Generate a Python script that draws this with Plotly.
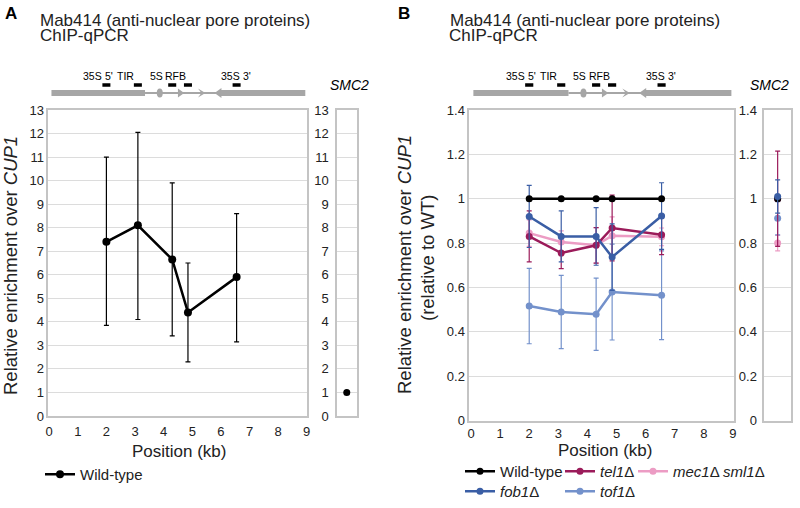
import plotly.graph_objects as go

# ---------------- data ----------------
positions = [2.0, 3.1, 4.3, 4.85, 6.55]          # kb
x_tick_vals = [0, 1, 2, 3, 4, 5, 6, 7, 8, 9]

# Panel A (absolute enrichment)
a_wt = [7.4, 8.1, 6.65, 4.4, 5.9]
a_wt_err_plus = [3.6, 3.95, 3.25, 2.1, 2.7]
a_wt_err_minus = [3.55, 4.0, 3.25, 2.1, 2.75]
a_smc2_wt = [1.0]
a_smc2_wt_err = [0.08]

# Panel B (relative to WT)
b_wt = [1.0, 1.0, 1.0, 1.0, 1.0]
b_tel1 = [0.83, 0.755, 0.79, 0.868, 0.838]
b_tel1_err = [0.115, 0.07, 0.08, 0.148, 0.09]
b_mec1 = [0.845, 0.805, 0.79, 0.833, 0.828]
b_mec1_err = [0.06, 0.05, 0.08, 0.085, 0.04]
b_fob1 = [0.92, 0.83, 0.83, 0.737, 0.922]
b_fob1_err = [0.14, 0.115, 0.13, 0.15, 0.15]
b_tof1 = [0.516, 0.489, 0.479, 0.579, 0.565]
b_tof1_err = [0.17, 0.165, 0.163, 0.216, 0.2]

b_smc2_wt = [1.0]
b_smc2_tel1 = [1.0]; b_smc2_tel1_err = [0.215]
b_smc2_mec1 = [0.80]; b_smc2_mec1_err = [0.035]
b_smc2_fob1 = [1.01]; b_smc2_fob1_err = [0.075]
b_smc2_tof1 = [0.912]; b_smc2_tof1_err = [0.075]

# schematic probe labels (token, centre in kb)
probe_tokens = ["35S", "5'", "TIR", "5S", "RFB", "35S", "3'"]
probe_token_center = [1.52, 2.1, 2.66, 3.74, 4.42, 6.35, 6.9]

# ---------------- style ----------------
W, H = 800, 508
FONT = "Liberation Sans, Arial, sans-serif"
C_WT = "#000000"
C_TEL1 = "#9b1b5a"
C_MEC1 = "#ec9cc4"
C_FOB1 = "#3a5ea5"
C_TOF1 = "#7391cb"
GRID = "#dcdcdc"
FRAME = "#c4c4c4"
GENE = "#a6a6a6"
TXT = "#222222"


def px(xp):
    return xp / W


def py(yp):
    return 1 - yp / H


fig = go.Figure()


def add_series(xs, ys, err, color, name, xa, ya, legend, showlegend=True,
               err_minus=None, lw=2.5, ms=7):
    ed = dict(type="data", array=err, color=color, thickness=1.2, width=2.5,
              visible=err is not None)
    if err_minus is not None:
        ed["arrayminus"] = err_minus
        ed["symmetric"] = False
    fig.add_trace(go.Scatter(
        x=xs, y=ys, mode="lines+markers", name=name,
        line=dict(color=color, width=lw), marker=dict(color=color, size=ms),
        error_y=ed, xaxis=xa, yaxis=ya, legend=legend, showlegend=showlegend))


# Panel A
add_series(positions, a_wt, a_wt_err_plus, C_WT, "Wild-type", "x", "y", "legend",
           err_minus=a_wt_err_minus, lw=2.5, ms=8)
add_series([0.5], a_smc2_wt, a_smc2_wt_err, C_WT, "Wild-type", "x2", "y2", "legend",
           showlegend=False, ms=7)

# Panel B main (one legend per entry so each entry sits on the original grid)
add_series(positions, b_tof1, b_tof1_err, C_TOF1, "<i>tof1</i>Δ", "x3", "y3", "legend6")
add_series(positions, b_mec1, b_mec1_err, C_MEC1, "<i>mec1</i>Δ <i>sml1</i>Δ", "x3", "y3", "legend4")
add_series(positions, b_tel1, b_tel1_err, C_TEL1, "<i>tel1</i>Δ", "x3", "y3", "legend3")
add_series(positions, b_fob1, b_fob1_err, C_FOB1, "<i>fob1</i>Δ", "x3", "y3", "legend5")
add_series(positions, b_wt, None, C_WT, "Wild-type", "x3", "y3", "legend2")

# Panel B SMC2
add_series([0.5], b_smc2_mec1, b_smc2_mec1_err, C_MEC1, "m", "x4", "y4", "legend2", showlegend=False)
add_series([0.5], b_smc2_tof1, b_smc2_tof1_err, C_TOF1, "t", "x4", "y4", "legend2", showlegend=False)
add_series([0.5], b_smc2_tel1, b_smc2_tel1_err, C_TEL1, "t1", "x4", "y4", "legend2", showlegend=False)
add_series([0.5], b_smc2_wt, None, C_WT, "w", "x4", "y4", "legend2", showlegend=False)
add_series([0.5], b_smc2_fob1, b_smc2_fob1_err, C_FOB1, "f", "x4", "y4", "legend2", showlegend=False)

tickfont = dict(family=FONT, size=13, color=TXT)

common_y = dict(showgrid=True, gridcolor=GRID, gridwidth=1, showline=True, mirror=True,
                linecolor=FRAME, linewidth=1.5, ticks="", tickfont=tickfont, zeroline=False,
                fixedrange=True, automargin=False)
common_x = dict(showgrid=False, showline=True, mirror=True, linecolor=FRAME, linewidth=1.5,
                ticks="", tickfont=tickfont, zeroline=False, fixedrange=True, automargin=False)

A_TOP, A_BOT = 110, 416
B_TOP, B_BOT = 110, 420.5


def legend_at(x_text, y_top, yanchor="top"):
    return dict(x=px(x_text - 40), y=(py(y_top) if yanchor == "top" else 0),
                xanchor="left", yanchor=yanchor, orientation="h",
                font=dict(family=FONT, size=15, color=TXT), bgcolor="rgba(0,0,0,0)",
                borderwidth=0)


fig.update_layout(
    width=W, height=H, autosize=False,
    margin=dict(l=0, r=0, t=0, b=0, pad=0),
    paper_bgcolor="white", plot_bgcolor="white",
    font=dict(family=FONT, color=TXT),
    xaxis=dict(domain=[px(48.3), px(307.3)], range=[-0.03, 9.02], anchor="y",
               tickvals=x_tick_vals, ticklabelstandoff=3, **common_x),
    yaxis=dict(domain=[py(A_BOT), py(A_TOP)], range=[0, 13], dtick=1, anchor="x", **common_y),
    xaxis2=dict(domain=[px(337), px(356.5)], range=[0, 1], anchor="y2", showticklabels=False,
                **common_x),
    yaxis2=dict(domain=[py(A_BOT), py(A_TOP)], range=[0, 13], dtick=1, anchor="x2",
                ticklabelstandoff=4, **common_y),
    xaxis3=dict(domain=[px(469.3), px(734.3)], range=[-0.06, 9.05], anchor="y3",
                tickvals=x_tick_vals, ticklabelstandoff=0, **common_x),
    yaxis3=dict(domain=[py(B_BOT), py(B_TOP)], range=[0, 1.4], dtick=0.2, anchor="x3", **common_y),
    xaxis4=dict(domain=[px(764.3), px(791)], range=[0, 1], anchor="y4", showticklabels=False,
                **common_x),
    yaxis4=dict(domain=[py(B_BOT), py(B_TOP)], range=[0, 1.4], dtick=0.2, anchor="x4",
                ticklabelstandoff=3, **common_y),
    legend=legend_at(80, 458),
    legend2=legend_at(500, 455),
    legend3=legend_at(600, 455),
    legend4=legend_at(673, 455),
    legend5=legend_at(500, 0, yanchor="bottom"),
    legend6=legend_at(600, 0, yanchor="bottom"),
)

shapes = []
annotations = []


# ---------- schematic of the rDNA repeat above each panel ----------
def schematic(xref, ybar=93):
    t = 3  # half thickness of the thick bars (px)
    shapes.append(dict(type="rect", xref=xref, yref="paper", x0=0.08, x1=3.35,
                       y0=py(ybar + t), y1=py(ybar - t), fillcolor=GENE, line=dict(width=0)))
    shapes.append(dict(type="line", xref=xref, yref="paper", x0=3.35, x1=5.95,
                       y0=py(ybar), y1=py(ybar), line=dict(color=GENE, width=2)))
    shapes.append(dict(type="circle", xref=xref, yref="paper", x0=3.76, x1=3.97,
                       y0=py(ybar + 4.5), y1=py(ybar - 4.5), fillcolor=GENE, line=dict(width=0)))
    shapes.append(dict(type="path", xref=xref, yref="paper",
                       path=f"M4.5,{py(ybar-4.5)} L4.72,{py(ybar)} L4.5,{py(ybar+4.5)} Z",
                       fillcolor=GENE, line=dict(width=0)))
    shapes.append(dict(type="path", xref=xref, yref="paper",
                       path=(f"M5.2,{py(ybar-4.5)} L5.46,{py(ybar)} L5.2,{py(ybar+4.5)} "
                             f"L5.32,{py(ybar)} Z"),
                       fillcolor=GENE, line=dict(width=0)))
    shapes.append(dict(type="path", xref=xref, yref="paper",
                       path=f"M6.02,{py(ybar-5)} L5.78,{py(ybar)} L6.02,{py(ybar+5)} Z",
                       fillcolor=GENE, line=dict(width=0)))
    shapes.append(dict(type="rect", xref=xref, yref="paper", x0=6.0, x1=8.95,
                       y0=py(ybar + t), y1=py(ybar - t), fillcolor=GENE, line=dict(width=0)))
    for p in positions:
        shapes.append(dict(type="rect", xref=xref, yref="paper", x0=p - 0.14, x1=p + 0.14,
                           y0=py(86.7), y1=py(83.3), fillcolor="black", line=dict(width=0)))
    for lab, cx in zip(probe_tokens, probe_token_center):
        annotations.append(dict(text=lab, xref=xref, yref="paper", x=cx, y=py(76.5),
                                xanchor="center", yanchor="middle", showarrow=False,
                                font=dict(family=FONT, size=10.5, color="black")))


schematic("x")
schematic("x3")


def text(t, x, y, size, xanchor="left", angle=0, bold=False, color=TXT, italic=False):
    if bold:
        t = f"<b>{t}</b>"
    if italic:
        t = f"<i>{t}</i>"
    annotations.append(dict(text=t, xref="paper", yref="paper", x=px(x), y=py(y),
                            xanchor=xanchor, yanchor="middle", showarrow=False, textangle=angle,
                            font=dict(family=FONT, size=size, color=color)))


# panel letters
text("A", 3, 14, 17, bold=True, color="black")
text("B", 396, 14, 17, bold=True, color="black")
# titles
for x0 in (37.5, 447.5):
    text("Mab414 (anti-nuclear pore proteins)", x0, 20.5, 17)
    text("ChIP-qPCR", x0, 36, 17)
# SMC2 labels
text("SMC2", 328, 85, 14, italic=True, color="black")
text("SMC2", 748, 85, 14, italic=True, color="black")
# axis titles
text("Relative enrichment over <i>CUP1</i>", 10, 266, 18.5, xanchor="center", angle=-90)
text("Relative enrichment over <i>CUP1</i>", 404, 265, 18.5, xanchor="center", angle=-90)
text("(relative to WT)", 427, 258, 18.5, xanchor="center", angle=-90)
text("Position (kb)", 179, 451, 17, xanchor="center")
text("Position (kb)", 604.5, 450, 17, xanchor="center")

fig.update_layout(shapes=shapes, annotations=annotations)

# the page body has a default 8px margin; remove it so the figure fills the window
fig.write_html("out.html", config={"displayModeBar": False},
               post_script="document.body.style.margin='0px';")
